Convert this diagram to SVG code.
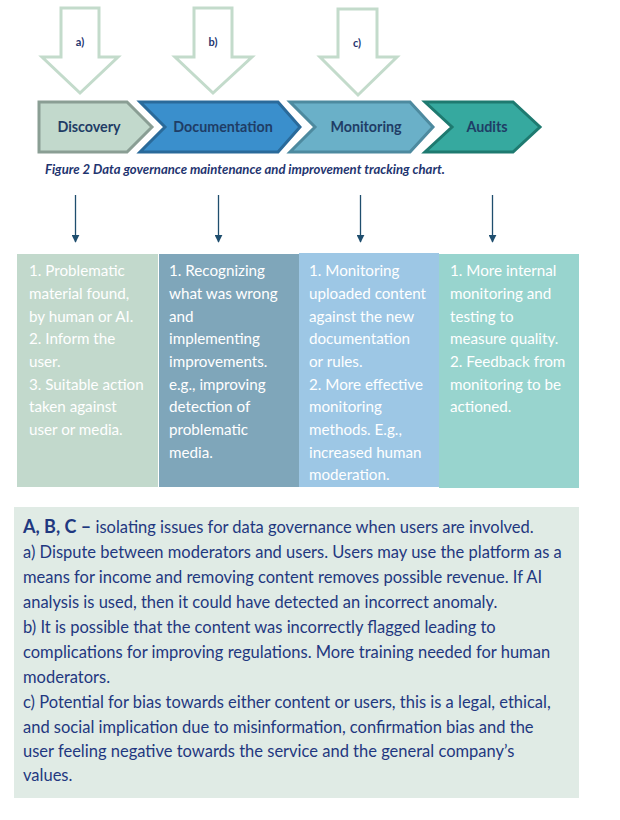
<svg xmlns="http://www.w3.org/2000/svg" width="620" height="820" viewBox="0 0 620 820">
<style>
.hollow{fill:#ffffff;stroke:#c3dbcb;stroke-width:3;stroke-linejoin:miter}
.lbl{font-family:Lato,"Liberation Sans",sans-serif;font-weight:bold;font-size:11px;fill:#1f3570;text-anchor:middle}
.chev{stroke-width:3;stroke-linejoin:miter}
.ctext{font-family:Lato,"Liberation Sans",sans-serif;font-weight:bold;font-size:14.3px;fill:#1f3d66;text-anchor:middle}
.cap{font-family:Lato,"Liberation Sans",sans-serif;font-weight:bold;font-style:italic;font-size:12.5px;fill:#1f3570}
.conn{stroke:#1f4e6e;stroke-width:1.3;fill:none}
.col{font-family:Lato,"Liberation Sans",sans-serif;font-size:15.2px;fill:#ffffff}
.para{font-family:Lato,"Liberation Sans",sans-serif;font-size:16.5px;fill:#1f3880}
</style>
<defs>
<marker id="ah" viewBox="0 0 10 10" refX="9" refY="5" markerWidth="8" markerHeight="8" markerUnits="userSpaceOnUse" orient="auto">
<path d="M0,0 L10,5 L0,10 z" fill="#1f4e6e"/>
</marker>
</defs>

<g id="arrow-a">
<polygon class="hollow" points="61,8 99,8 99,57 118,57 80,93 42,57 61,57"/>
<text class="lbl" x="80" y="46">a)</text>
</g>
<g id="arrow-b">
<polygon class="hollow" points="194,8 232,8 232,57 252,57 213,93 175,57 194,57"/>
<text class="lbl" x="213" y="46">b)</text>
</g>
<g id="arrow-c">
<polygon class="hollow" points="338,9 377,9 377,57 397,57 358,95 320,57 338,57"/>
<text class="lbl" x="357" y="47">c)</text>
</g>

<g id="discovery">
<polygon class="chev" fill="#c2d9cc" stroke="#8a9e94" points="39,102 127,102 152,127 127,152 39,152"/>
<text class="ctext" x="89" y="132">Discovery</text>
</g>
<g id="documentation">
<polygon class="chev" fill="#3a8fcc" stroke="#2a6a9a" points="140,102 278,102 300,127 278,152 140,152 165,127"/>
<text class="ctext" x="223" y="132">Documentation</text>
</g>
<g id="monitoring">
<polygon class="chev" fill="#6ab0c8" stroke="#4d8a9f" points="290,102 410,102 433,127 410,152 290,152 315,127"/>
<text class="ctext" x="366" y="132">Monitoring</text>
</g>
<g id="audits">
<polygon class="chev" fill="#36a99f" stroke="#1e7a70" points="425,102 513,102 540,127 513,152 425,152 452,127"/>
<text class="ctext" x="487" y="132">Audits</text>
</g>

<text class="cap" x="45" y="174" textLength="400" lengthAdjust="spacingAndGlyphs">Figure 2 Data governance maintenance and improvement tracking chart.</text>

<g id="connectors">
<line class="conn" x1="75.5" y1="195" x2="75.5" y2="242" marker-end="url(#ah)"/>
<line class="conn" x1="218.5" y1="195" x2="218.5" y2="242" marker-end="url(#ah)"/>
<line class="conn" x1="360.5" y1="195" x2="360.5" y2="242" marker-end="url(#ah)"/>
<line class="conn" x1="492.5" y1="195" x2="492.5" y2="242" marker-end="url(#ah)"/>
</g>

<g id="col-discovery">
<rect x="17" y="254" width="141" height="233" fill="#c2d9cc"/>
<text class="col" x="29"><tspan x="29" y="276">1. Problematic</tspan><tspan x="29" y="299">material found,</tspan><tspan x="29" y="322">by human or AI.</tspan><tspan x="29" y="344">2. Inform the</tspan><tspan x="29" y="367">user.</tspan><tspan x="29" y="390">3. Suitable action</tspan><tspan x="29" y="412">taken against</tspan><tspan x="29" y="435">user or media.</tspan></text>
</g>
<g id="col-documentation">
<rect x="159" y="254" width="140" height="233" fill="#7fa6ba"/>
<text class="col" x="169"><tspan x="169" y="276">1. Recognizing</tspan><tspan x="169" y="299">what was wrong</tspan><tspan x="169" y="322">and</tspan><tspan x="169" y="344">implementing</tspan><tspan x="169" y="367">improvements.</tspan><tspan x="169" y="390">e.g., improving</tspan><tspan x="169" y="412">detection of</tspan><tspan x="169" y="435">problematic</tspan><tspan x="169" y="458">media.</tspan></text>
</g>
<g id="col-monitoring">
<rect x="299" y="253" width="140" height="234" fill="#9dc7e5"/>
<text class="col" x="309"><tspan x="309" y="276">1. Monitoring</tspan><tspan x="309" y="299">uploaded content</tspan><tspan x="309" y="322">against the new</tspan><tspan x="309" y="344">documentation</tspan><tspan x="309" y="367">or rules.</tspan><tspan x="309" y="390">2. More effective</tspan><tspan x="309" y="412">monitoring</tspan><tspan x="309" y="435">methods. E.g.,</tspan><tspan x="309" y="458">increased human</tspan><tspan x="309" y="480">moderation.</tspan></text>
</g>
<g id="col-audits">
<rect x="439" y="254" width="140" height="234" fill="#98d4ce"/>
<text class="col" x="450"><tspan x="450" y="276">1. More internal</tspan><tspan x="450" y="299">monitoring and</tspan><tspan x="450" y="322">testing to</tspan><tspan x="450" y="344">measure quality.</tspan><tspan x="450" y="367">2. Feedback from</tspan><tspan x="450" y="390">monitoring to be</tspan><tspan x="450" y="412">actioned.</tspan></text>
</g>

<g id="notes">
<rect x="14" y="507" width="565" height="291" fill="#e0ebe5"/>
<text class="para"><tspan x="23" y="533" font-weight="bold" font-size="18px">A, B, C –</tspan><tspan> isolating issues for data governance when users are involved.</tspan></text>
<text class="para" x="23" y="558">a) Dispute between moderators and users. Users may use the platform as a</text>
<text class="para" x="23" y="583">means for income and removing content removes possible revenue. If AI</text>
<text class="para" x="23" y="608">analysis is used, then it could have detected an incorrect anomaly.</text>
<text class="para" x="23" y="633">b) It is possible that the content was incorrectly flagged leading to</text>
<text class="para" x="23" y="658">complications for improving regulations. More training needed for human</text>
<text class="para" x="23" y="683">moderators.</text>
<text class="para" x="23" y="708">c) Potential for bias towards either content or users, this is a legal, ethical,</text>
<text class="para" x="23" y="733">and social implication due to misinformation, confirmation bias and the</text>
<text class="para" x="23" y="757">user feeling negative towards the service and the general company’s</text>
<text class="para" x="23" y="781">values.</text>
</g>
</svg>
